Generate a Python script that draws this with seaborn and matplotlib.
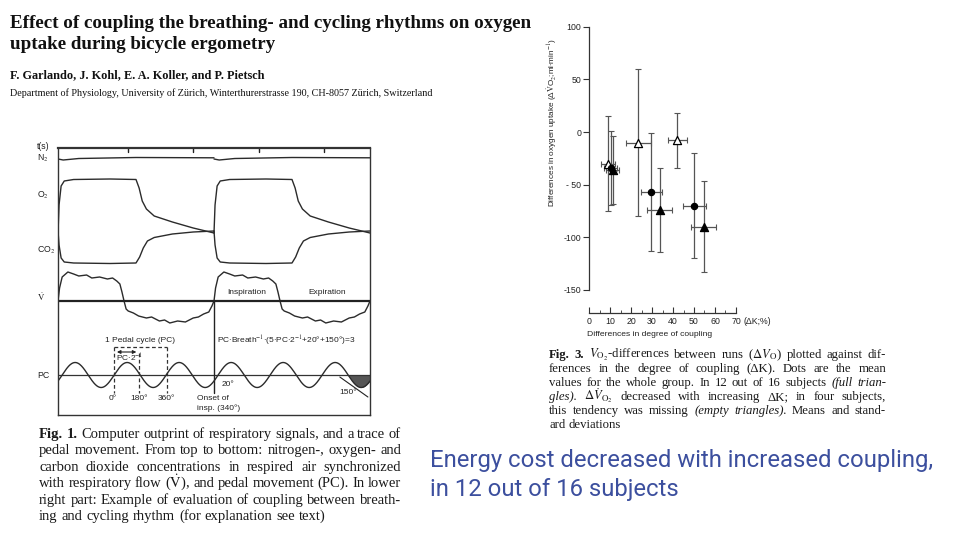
import numpy as np
import pandas as pd
import matplotlib
matplotlib.use("Agg")
import matplotlib.pyplot as plt
import seaborn as sns

##############################################################
# donnees
##############################################################

# Fig. 3 : differences de couplage (dK, %) vs differences de VO2
kind    = ["empty", "dot", "full", "empty", "dot", "full", "empty", "dot", "full"]
dK      = [9.0, 10.3, 11.3, 23.5, 29.7, 33.6, 42.0, 50.2, 54.6]
dK_sd   = [3.5, 3.0, 3.0, 6.0, 5.0, 6.0, 4.5, 5.5, 6.0]
dVO2    = [-30, -34, -36, -10, -57, -74, -8, -70, -90]
dVO2_sd = [45, 35, 32, 70, 56, 40, 26, 50, 43]

y_ticks = [-150, -100, -50, 0, 50, 100]
y_tick_labels = ["-150", "-100", "- 50", "0", "50", "100"]
x_ticks = [0, 10, 20, 30, 40, 50, 60, 70]

# Fig. 1 : traces (t en cycles de pedale depuis le debut de l'inspiration, y en px du scan)
breath_onsets = [0.0, 3.0]
N2_t  = [0.0, 0.1, 0.4, 1.5, 3.0]
N2_y  = [159, 160, 158.5, 157.5, 157.8]
O2_t  = [0.0, 0.02, 0.06, 0.12, 0.3, 1.0, 1.5, 1.56, 1.62, 1.7, 1.85, 2.2, 2.6, 3.0]
O2_y  = [233, 205, 186, 181, 179.5, 179, 179.5, 188, 201, 209, 216, 222, 228, 233]
CO2_t = [0.0, 0.02, 0.06, 0.12, 0.3, 1.0, 1.5, 1.57, 1.64, 1.72, 1.85, 2.2, 2.6, 3.0]
CO2_y = [231, 245, 258, 262, 263, 263.5, 263, 257, 248, 241, 237.5, 234, 232, 231]
V_t   = [0.0, 0.03, 0.08, 0.19, 0.3, 0.4, 0.55, 0.65, 0.8, 0.95, 1.05, 1.13, 1.19, 1.23,
         1.27, 1.31, 1.35, 1.45, 1.55, 1.7, 1.8, 1.95, 2.05, 2.15, 2.3, 2.45, 2.6, 2.7,
         2.8, 2.9, 2.96, 3.0]
V_y   = [301, 288, 277, 272, 274, 276, 275, 278, 277, 279, 278, 281, 284, 292,
         301, 309, 311, 313, 316, 318, 317, 321, 320, 323, 321, 322, 318, 317,
         314, 312, 306, 301]
V_base = 301
PC_mid, PC_amp, PC_zero = 375, 12.5, 0.08
time_ticks = [1.35, 2.6, 3.87, 5.12]

SERIF = "Liberation Serif"
SANS = "Liberation Sans"
W, H = 960, 540

sns.set_theme(style="ticks")
plt.rcParams["font.family"] = [SANS, "DejaVu Sans"]
plt.rcParams["mathtext.fontset"] = "stix"

fig = plt.figure(figsize=(9.6, 5.4), dpi=100)
fig.patch.set_facecolor("white")


def fx(x):
    return x / W


def fy(y):
    return 1 - y / H


def justify(segs, x0, x1, y, size, last=False):
    words = []
    for txt, w, s in segs:
        for wd in txt.split():
            words.append((wd, w, s))
    arts = [fig.text(fx(x0), fy(y), wd, fontsize=size, fontweight=w, fontstyle=s,
                     family=SERIF, va="baseline", color="#1a1a1a") for wd, w, s in words]
    r = fig.canvas.get_renderer()
    widths = [a.get_window_extent(r).width for a in arts]
    if last or len(words) < 2:
        gap = size * 100 / 72 * 0.27
    else:
        gap = (x1 - x0 - sum(widths)) / (len(words) - 1)
    x = x0
    for a, wd in zip(arts, widths):
        a.set_x(fx(x))
        x += wd + gap


# ---------------- titre de l'article ----------------
fig.text(fx(10), fy(28), "Effect of coupling the breathing- and cycling rhythms on oxygen",
         family=SERIF, fontweight="bold", fontsize=13.7, va="baseline", color="#111")
fig.text(fx(10), fy(49), "uptake during bicycle ergometry",
         family=SERIF, fontweight="bold", fontsize=13.7, va="baseline", color="#111")
fig.text(fx(10), fy(78), "F. Garlando, J. Kohl, E. A. Koller, and P. Pietsch",
         family=SERIF, fontweight="bold", fontsize=8.8, va="baseline", color="#111")
fig.text(fx(10), fy(96), "Department of Physiology, University of Zürich, Winterthurerstrasse 190, "
         "CH-8057 Zürich, Switzerland", family=SERIF, fontsize=7.3, va="baseline", color="#111")

# ---------------- Fig. 1 : traces ----------------
axL = fig.add_axes([fx(58), fy(415), 312 / W, 267 / H])
axL.set_xlim(0, 6)
axL.set_ylim(415, 148)
axL.set_xticks([])
axL.set_yticks([])
for sp in axL.spines.values():
    sp.set_color("#333")
    sp.set_linewidth(1.0)
axL.spines["top"].set_linewidth(1.6)

tc = "#2b2b2b"
for b in breath_onsets:
    for tt, yy in [(N2_t, N2_y), (O2_t, O2_y), (CO2_t, CO2_y), (V_t, V_y)]:
        sns.lineplot(x=np.array(tt) + b, y=yy, ax=axL, color=tc, lw=1.0, sort=False)

axL.axhline(V_base, color="#222", lw=1.6)
axL.axhline(PC_mid, color="#333", lw=0.9)
axL.plot([3.0, 3.0], [V_base, 393], color="#222", lw=1.0)
for t0 in time_ticks:
    axL.plot([t0, t0], [148, 151.5], color="#222", lw=1.0)

t_pc = np.linspace(0, 6, 800)
pc = PC_mid - PC_amp * np.sin(2 * np.pi * (t_pc - PC_zero))
sns.lineplot(x=t_pc, y=pc, ax=axL, color=tc, lw=1.0, sort=False)
sh = t_pc >= 5.58
axL.fill_between(t_pc[sh], PC_mid, pc[sh], where=pc[sh] > PC_mid, color="#555", lw=0)
axL.plot([5.42, 5.96], [377, 397], color="#222", lw=0.8)

# boite en tirets : 1 cycle de pedale
dash = dict(color="#333", lw=0.9, ls=(0, (3, 2)))
axL.plot([1.08, 2.09], [347, 347], **dash)
axL.plot([1.08, 1.08], [347, 393], **dash)
axL.plot([2.09, 2.09], [347, 393], **dash)
axL.plot([1.56, 1.56], [353, 393], **dash)
axL.annotate("", xy=(1.56, 352), xytext=(1.08, 352),
             arrowprops=dict(arrowstyle="<|-|>", color="#222", lw=0.8, mutation_scale=5))

lab = dict(fontsize=6, color="#222", family=SANS)
axL.text(1.58, 341, "1 Pedal cycle (PC)", ha="center", va="center", **lab)
axL.text(1.12, 358, r"PC$\cdot$2$^{-1}$", ha="left", va="center", **lab)
axL.text(3.05, 341, r"PC$\cdot$Breath$^{-1}$$\cdot$(5$\cdot$PC$\cdot$2$^{-1}$+20°+150°)=3",
         ha="left", va="center", **lab)
axL.text(1.06, 398, "0°", ha="center", va="center", **lab)
axL.text(1.56, 398, "180°", ha="center", va="center", **lab)
axL.text(2.09, 398, "360°", ha="center", va="center", **lab)
axL.text(2.68, 399, "Onset of", ha="left", va="center", **lab)
axL.text(2.68, 408, "insp. (340°)", ha="left", va="center", **lab)
axL.text(3.15, 385, "20°", ha="left", va="center", **lab)
axL.text(5.42, 393, "150°", ha="left", va="center", **lab)
axL.text(3.63, 293, "Inspiration", ha="center", va="center", **lab)
axL.text(5.17, 293, "Expiration", ha="center", va="center", **lab)

for txt, yy in [("t(s)", 147), ("N$_2$", 158), ("O$_2$", 195), ("CO$_2$", 250),
                (r"$\dot{\mathrm{V}}$", 297), ("PC", 376)]:
    fig.text(fx(37), fy(yy), txt, ha="left", va="center", fontsize=6.3, color="#222", family=SANS)

# legende Fig. 1
cap1 = [
    [("Fig. 1.", "bold", "normal"), ("Computer outprint of respiratory signals, and a trace of", "normal", "normal")],
    [("pedal movement. From top to bottom: nitrogen-, oxygen- and", "normal", "normal")],
    [("carbon dioxide concentrations in respired air synchronized", "normal", "normal")],
    [(r"with respiratory flow ($\dot{\mathrm{V}}$), and pedal movement (PC). In lower", "normal", "normal")],
    [("right part: Example of evaluation of coupling between breath-", "normal", "normal")],
    [("ing and cycling rhythm (for explanation see text)", "normal", "normal")],
]
for i, segs in enumerate(cap1):
    justify(segs, 39, 401, 438 + 16.4 * i, 10.5, last=(i == len(cap1) - 1))

# ---------------- Fig. 3 : graphe ----------------
df = pd.DataFrame({"kind": kind, "dK": dK, "dK_sd": dK_sd, "dVO2": dVO2, "dVO2_sd": dVO2_sd})

axR = fig.add_axes([fx(589), fy(313), 72 * 2.1 / W, (313 - 22.6) / H])
axR.set_xlim(0, 72)
axR.set_ylim(-172, 104)
axR.patch.set_alpha(0)

axR.errorbar(df["dK"], df["dVO2"], xerr=df["dK_sd"], yerr=df["dVO2_sd"], fmt="none",
             ecolor="#555", elinewidth=0.9, capsize=2, capthick=0.8, zorder=2)

styles = {"empty": dict(marker="^", color="white", s=34),
          "full": dict(marker="^", color="black", s=34),
          "dot": dict(marker="o", color="black", s=20)}
for k, st in styles.items():
    sub = df[df["kind"] == k]
    sns.scatterplot(data=sub, x="dK", y="dVO2", ax=axR, marker=st["marker"], color=st["color"],
                    s=st["s"], edgecolor="black", linewidth=0.9, zorder=3, legend=False)

sns.despine(ax=axR, top=True, right=True)
axR.spines["left"].set_bounds(-150, 100)
axR.spines["bottom"].set_bounds(0, 70)
for sp in ["left", "bottom"]:
    axR.spines[sp].set_color("#333")
    axR.spines[sp].set_linewidth(0.9)
axR.set_yticks(y_ticks)
axR.set_yticklabels(y_tick_labels)
axR.set_xticks(x_ticks)
axR.set_xticks(range(5, 70, 10), minor=True)
axR.tick_params(axis="y", direction="out", length=4, width=0.8, color="#333", labelsize=6.3,
                pad=1.5, labelcolor="#222")
axR.tick_params(axis="x", which="major", direction="in", length=4, width=0.8, color="#333",
                labelsize=6.3, pad=3, labelcolor="#222")
axR.tick_params(axis="x", which="minor", direction="in", length=2, width=0.6, color="#333")
axR.set_xlabel("")
axR.set_ylabel("")

fig.text(fx(744), fy(322), "(ΔK;%)", fontsize=6.3, va="center", ha="left", color="#222")
fig.text(fx(587), fy(335), "Differences in degree of coupling", fontsize=6.1, va="center",
         ha="left", color="#222")
fig.text(fx(552), fy(123), r"Differences in oxygen uptake (Δ$\dot{\mathrm{V}}$O$_2$;ml$\cdot$min$^{-1}$)",
         fontsize=5.9, va="center", ha="center", rotation=90, color="#222")

# legende Fig. 3
cap3 = [
    [("Fig. 3.", "bold", "normal"),
     (r"$V_{\mathrm{O_2}}$-differences between runs ($\Delta{V}_{\mathrm{O}}$) plotted against dif-", "normal", "normal")],
    [("ferences in the degree of coupling (ΔK). Dots are the mean", "normal", "normal")],
    [("values for the whole group. In 12 out of 16 subjects", "normal", "normal"),
     ("(full trian-", "normal", "italic")],
    [("gles).", "normal", "italic"),
     (r"$\Delta\dot{V}_{\mathrm{O_2}}$ decreased with increasing ΔK; in four subjects,", "normal", "normal")],
    [("this tendency was missing", "normal", "normal"), ("(empty triangles).", "normal", "italic"),
     ("Means and stand-", "normal", "normal")],
    [("ard deviations", "normal", "normal")],
]
for i, segs in enumerate(cap3):
    justify(segs, 549, 886, 358 + 14 * i, 9.2, last=(i == len(cap3) - 1))

# ---------------- message ----------------
fig.text(fx(430), fy(467), "Energy cost decreased with increased coupling,", family=["Roboto", "DejaVu Sans"],
         fontsize=17.2, color="#3c4f9e", va="baseline")
fig.text(fx(430), fy(496), "in 12 out of 16 subjects", family=["Roboto", "DejaVu Sans"],
         fontsize=17.2, color="#3c4f9e", va="baseline")

fig.savefig("out.png", dpi=100, facecolor="white")
